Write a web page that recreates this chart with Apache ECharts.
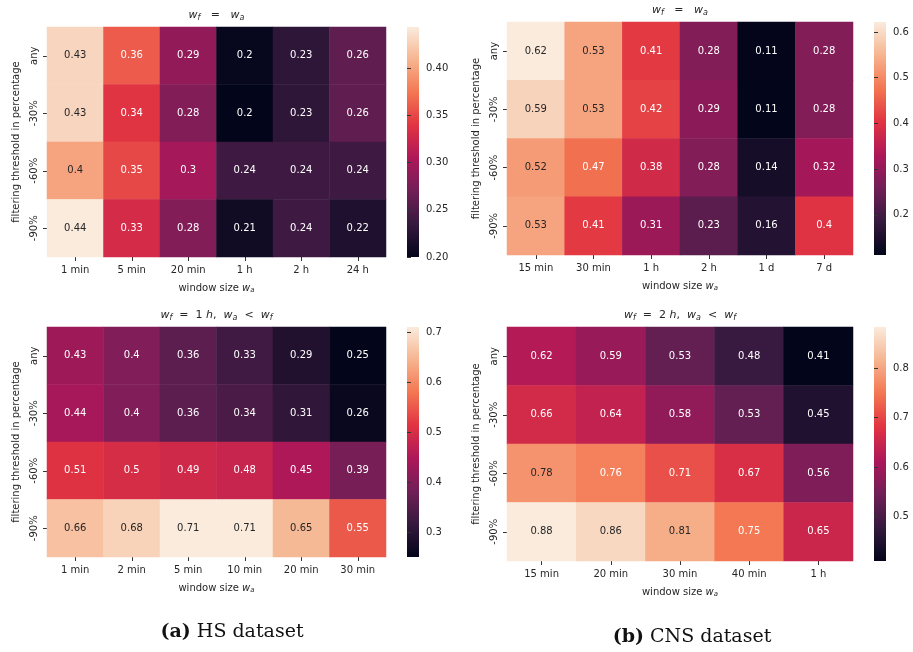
<!DOCTYPE html>
<html><head><meta charset="utf-8">
<script src="https://cdn.jsdelivr.net/npm/echarts@6/dist/echarts.min.js"></script>
<style>html,body{margin:0;padding:0;background:#fff}#c{width:913px;height:652px}</style>
</head><body><div id="c"></div>
<script>
// ---- data ----
const rowLabels = ['any', '-30%', '-60%', '-90%'];

const hsEqCols = ['1 min', '5 min', '20 min', '1 h', '2 h', '24 h'];
const hsEqVals = [
  [0.43, 0.36, 0.29, 0.203, 0.23, 0.26],
  [0.43, 0.34, 0.28, 0.200, 0.23, 0.26],
  [0.40, 0.35, 0.30, 0.24, 0.24, 0.24],
  [0.444, 0.33, 0.28, 0.21, 0.24, 0.22]
];
const hsEqTicks = [0.20, 0.25, 0.30, 0.35, 0.40];

const cnsEqCols = ['15 min', '30 min', '1 h', '2 h', '1 d', '7 d'];
const cnsEqVals = [
  [0.622, 0.53, 0.41, 0.28, 0.113, 0.28],
  [0.59, 0.53, 0.42, 0.29, 0.112, 0.28],
  [0.52, 0.47, 0.38, 0.28, 0.14, 0.32],
  [0.53, 0.41, 0.31, 0.23, 0.16, 0.40]
];
const cnsEqTicks = [0.2, 0.3, 0.4, 0.5, 0.6];

const hsLtCols = ['1 min', '2 min', '5 min', '10 min', '20 min', '30 min'];
const hsLtVals = [
  [0.43, 0.40, 0.36, 0.33, 0.29, 0.251],
  [0.44, 0.40, 0.36, 0.34, 0.31, 0.26],
  [0.51, 0.50, 0.49, 0.48, 0.45, 0.39],
  [0.66, 0.68, 0.71, 0.71, 0.65, 0.55]
];
const hsLtTicks = [0.3, 0.4, 0.5, 0.6, 0.7];

const cnsLtCols = ['15 min', '20 min', '30 min', '40 min', '1 h'];
const cnsLtVals = [
  [0.62, 0.59, 0.53, 0.48, 0.409],
  [0.66, 0.64, 0.58, 0.53, 0.45],
  [0.78, 0.76, 0.71, 0.67, 0.56],
  [0.884, 0.86, 0.81, 0.75, 0.65]
];
const cnsLtTicks = [0.5, 0.6, 0.7, 0.8];

// ---- style ----
const rocket = ['#03051a', '#35193e', '#701f57', '#ad1759', '#e13342', '#f37651', '#f6b48f', '#faebdd'];
const FONT = 'DejaVu Sans';
const TXT = '#262626';

function hex2rgb(h) { return [1, 3, 5].map(i => parseInt(h.substr(i, 2), 16)); }
function cmap(t) {
  t = Math.max(0, Math.min(1, t));
  const n = rocket.length - 1, p = t * n, i = Math.min(n - 1, Math.floor(p)), f = p - i;
  const a = hex2rgb(rocket[i]), b = hex2rgb(rocket[i + 1]);
  return a.map((v, k) => v + (b[k] - v) * f);
}
function lum(rgb) {
  const l = rgb.map(v => { v /= 255; return v <= 0.03928 ? v / 12.92 : Math.pow((v + 0.055) / 1.055, 2.4); });
  return 0.2126 * l[0] + 0.7152 * l[1] + 0.0722 * l[2];
}
function fmt(v) { return String(parseFloat(v.toPrecision(2))); }

const panels = [
  { cols: hsEqCols, vals: hsEqVals, ticks: hsEqTicks, tickFmt: v => v.toFixed(2),
    grid: { left: 47, top: 27, width: 339, height: 230 }, cb: { left: 407, width: 12 },
    title: '{i|w}{sub|f}   =   {i|w}{sub|a}', titleY: 15 },
  { cols: cnsEqCols, vals: cnsEqVals, ticks: cnsEqTicks, tickFmt: v => v.toFixed(1),
    grid: { left: 507, top: 22, width: 346, height: 233 }, cb: { left: 874, width: 12 },
    title: '{i|w}{sub|f}   =   {i|w}{sub|a}', titleY: 10 },
  { cols: hsLtCols, vals: hsLtVals, ticks: hsLtTicks, tickFmt: v => v.toFixed(1),
    grid: { left: 47, top: 327, width: 339, height: 230 }, cb: { left: 407, width: 12 },
    title: '{i|w}{sub|f}  =  1 {i|h},  {i|w}{sub|a}  <  {i|w}{sub|f}', titleY: 315 },
  { cols: cnsLtCols, vals: cnsLtVals, ticks: cnsLtTicks, tickFmt: v => v.toFixed(1),
    grid: { left: 507, top: 327, width: 346, height: 234 }, cb: { left: 874, width: 12 },
    title: '{i|w}{sub|f}  =  2 {i|h},  {i|w}{sub|a}  <  {i|w}{sub|f}', titleY: 315 }
];

const richMath = {
  i: { fontFamily: FONT, fontStyle: 'italic', fontSize: 11, color: TXT },
  sub: { fontFamily: FONT, fontStyle: 'italic', fontSize: 8, color: TXT, padding: [6, 0, 0, 0] }
};
const richName = {
  i: { fontFamily: FONT, fontStyle: 'italic', fontSize: 10, color: TXT },
  sub: { fontFamily: FONT, fontStyle: 'italic', fontSize: 7, color: TXT, padding: [5, 0, 0, 0] }
};

const grids = [], xAxes = [], yAxes = [], series = [], visualMaps = [], graphics = [];

panels.forEach((p, k) => {
  const all = p.vals.flat();
  const vmin = Math.min(...all), vmax = Math.max(...all);
  const data = [];
  p.vals.forEach((row, r) => row.forEach((v, c) => {
    const col = cmap((v - vmin) / (vmax - vmin));
    data.push({ value: [c, r, v], label: { color: lum(col) > 0.408 ? TXT : '#ffffff' } });
  }));

  // heatmap grid
  grids.push(Object.assign({ containLabel: false }, p.grid));
  xAxes.push({
    type: 'category', gridIndex: 2 * k, data: p.cols,
    axisLine: { show: false },
    axisTick: { show: true, alignWithLabel: true, length: 4, lineStyle: { color: '#333' } },
    axisLabel: { fontFamily: FONT, fontSize: 10, color: TXT, margin: 8 },
    splitLine: { show: false }, splitArea: { show: false },
    name: 'window size {i|w}{sub|a}', nameLocation: 'middle', nameGap: 25,
    nameTextStyle: { fontFamily: FONT, fontSize: 10, color: TXT, rich: richName }
  });
  yAxes.push({
    type: 'category', gridIndex: 2 * k, data: rowLabels, inverse: true,
    axisLine: { show: false },
    axisTick: { show: true, alignWithLabel: true, length: 4, lineStyle: { color: '#333' } },
    axisLabel: { fontFamily: FONT, fontSize: 10, color: TXT, rotate: 90, margin: 8 },
    splitLine: { show: false }, splitArea: { show: false },
    name: 'filtering threshold in percentage', nameLocation: 'middle', nameGap: 26,
    nameTextStyle: { fontFamily: FONT, fontSize: 10, color: TXT }
  });
  series.push({
    type: 'heatmap', xAxisIndex: 2 * k, yAxisIndex: 2 * k, data: data,
    label: { show: true, fontFamily: FONT, fontSize: 10, formatter: q => fmt(q.value[2]) },
    itemStyle: { borderWidth: 0 },
    emphasis: { disabled: true }
  });
  visualMaps.push({
    show: false, type: 'continuous', seriesIndex: k, dimension: 2,
    min: vmin, max: vmax, inRange: { color: rocket }
  });

  // colorbar grid
  grids.push({
    left: p.cb.left, width: p.cb.width, top: p.grid.top, height: p.grid.height,
    show: true, borderWidth: 0,
    backgroundColor: {
      type: 'linear', x: 0, y: 1, x2: 0, y2: 0,
      colorStops: rocket.map((c, i) => ({ offset: i / (rocket.length - 1), color: c }))
    }
  });
  xAxes.push({ type: 'value', gridIndex: 2 * k + 1, show: false, min: 0, max: 1 });
  yAxes.push({
    type: 'value', gridIndex: 2 * k + 1, position: 'right', min: vmin, max: vmax,
    axisLine: { show: false },
    axisTick: { show: true, length: 4, lineStyle: { color: '#333' }, customValues: p.ticks },
    axisLabel: { fontFamily: FONT, fontSize: 10, color: TXT, margin: 7, customValues: p.ticks, formatter: v => p.tickFmt(v) },
    splitLine: { show: false }
  });

  graphics.push({
    type: 'text', x: p.grid.left + p.grid.width / 2, y: p.titleY,
    style: { text: p.title, fontFamily: FONT, fontSize: 11, fill: TXT, align: 'center', verticalAlign: 'middle', rich: richMath }
  });
});

graphics.push({
  type: 'text', x: 232, y: 632,
  style: { text: '{b|(a)} HS dataset', fontFamily: 'DejaVu Serif', fontSize: 19, fill: '#111', align: 'center', verticalAlign: 'middle',
    rich: { b: { fontFamily: 'DejaVu Serif', fontWeight: 'bold', fontSize: 19, fill: '#111' } } }
});
graphics.push({
  type: 'text', x: 692, y: 637,
  style: { text: '{b|(b)} CNS dataset', fontFamily: 'DejaVu Serif', fontSize: 19, fill: '#111', align: 'center', verticalAlign: 'middle',
    rich: { b: { fontFamily: 'DejaVu Serif', fontWeight: 'bold', fontSize: 19, fill: '#111' } } }
});

const chart = echarts.init(document.getElementById('c'), null, { renderer: 'canvas' });
chart.setOption({
  animation: false,
  backgroundColor: '#ffffff',
  grid: grids, xAxis: xAxes, yAxis: yAxes,
  visualMap: visualMaps, series: series, graphic: graphics
});
</script></body></html>
